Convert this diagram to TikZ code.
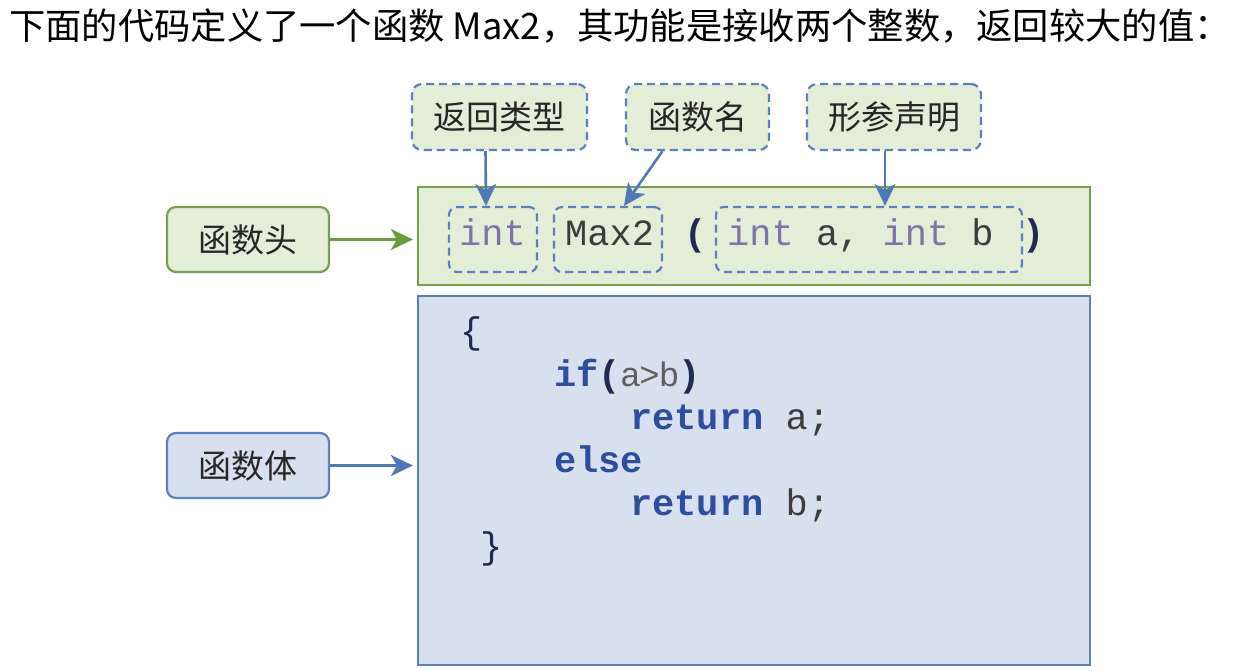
\documentclass[tikz,border=0pt]{standalone}
\usepackage{fontspec}
\setmainfont{Liberation Sans}
\setmonofont{Liberation Mono}
\newfontfamily\cjk{Noto Sans CJK SC}
\usetikzlibrary{arrows.meta}
\definecolor{gfill}{HTML}{E3EED7}
\definecolor{gline}{HTML}{76A04A}
\definecolor{bfill}{HTML}{D7E0EF}
\definecolor{bline}{HTML}{5B80BF}
\definecolor{barrow}{HTML}{4F78B8}
\definecolor{garrow}{HTML}{6A9A3E}
\definecolor{kwblue}{HTML}{2D4E9F}
\definecolor{navy}{HTML}{1F2A55}
\definecolor{intc}{HTML}{7E74A8}
\definecolor{txtg}{HTML}{3C3C3C}
\definecolor{lgray}{HTML}{5E5E5E}
\tikzset{
  bigbox/.style={draw, line width=2.2pt, minimum width=672pt, inner sep=0pt},
  sidelbl/.style={draw, line width=2.2pt, rounded corners=9pt, minimum width=162pt, minimum height=65pt, font=\cjk\fontsize{33}{35}\selectfont, text=black!85},
  toplbl/.style={draw=bline, fill=gfill, line width=2.2pt, dash pattern=on 8pt off 5pt, rounded corners=10pt, minimum height=66pt, font=\cjk\fontsize{33}{35}\selectfont, text=black!85},
  dbox/.style={draw=bline, line width=2.2pt, dash pattern=on 8pt off 5pt, rounded corners=8pt, minimum height=65pt, inner sep=0pt},
  code/.style={inner sep=0pt, anchor=base west, font=\ttfamily\fontsize{37}{40}\selectfont},
  kw/.style={code, font=\ttfamily\bfseries\fontsize{37}{40}\selectfont, text=kwblue},
  arr/.style={line width=2.6pt, -{Stealth[length=22pt,width=21pt,inset=6pt]}},
}
\begin{document}
\begin{tikzpicture}[x=1pt,y=-1pt]
\useasboundingbox (0,0) rectangle (1245,670);
% title
\node[anchor=west, inner sep=0pt, font=\cjk\fontsize{36.3}{38}\selectfont] (title) at (9,26) {下面的代码定义了一个函数 Max2，其功能是接收两个整数，返回较大的值：};
% big boxes
\node[bigbox, draw=gline, fill=gfill, minimum height=98pt] (head) at (754,236) {};
\node[bigbox, draw=bline, fill=bfill, minimum height=369pt] (body) at (754,480.5) {};
% side labels
\node[sidelbl, draw=gline, fill=gfill] (lhead) at (248,239.5) {函数头};
\node[sidelbl, draw=bline, fill=bfill] (lbody) at (248,465.5) {函数体};
\draw[arr, garrow] (lhead.east) -- ([xshift=-4pt]head.west |- lhead.east);
\draw[arr, barrow] (lbody.east) -- ([xshift=-4pt]body.west |- lbody.east);
% top labels
\node[toplbl, minimum width=175pt] (ret) at (499.5,117) {返回类型};
\node[toplbl, minimum width=143pt] (fn) at (697.5,117) {函数名};
\node[toplbl, minimum width=174pt] (parm) at (894,117) {形参声明};
% dashed boxes in header
\node[dbox, minimum width=88pt] (intbox) at (493,239.5) {};
\node[dbox, minimum width=108pt] (maxbox) at (608,239.5) {};
\node[dbox, minimum width=306pt] (parbox) at (869,239.5) {};
% arrows
\draw[arr, barrow] ([xshift=-14pt]ret.south) -- ([xshift=-7pt]intbox.north);
\draw[arr, barrow] ([xshift=-35pt]fn.south) -- ([xshift=16pt]maxbox.north);
\draw[arr, barrow] ([xshift=-9pt]parm.south) -- ([xshift=16pt]parbox.north);
% header code
\node[code, text=intc] (t1) at (459,245) {int};
\node[code, text=txtg] (t2) at (565,245) {Max2};
\node[code, font=\ttfamily\bfseries\fontsize{37}{40}\selectfont, text=navy] (t3) at (684,245) {(};
\node[code] (t4) at (727,245) {\textcolor{intc}{int} \textcolor{txtg}{a,} \textcolor{intc}{int} \textcolor{txtg}{b}};
\node[code, font=\ttfamily\bfseries\fontsize{37}{40}\selectfont, text=navy] (t5) at (1022,245) {)};
% body code
\node[code, text=navy] (b1) at (460,343) {\{};
\node[kw] (b2) at (554,386) {if\textcolor{navy}{(}{\rmfamily\mdseries\fontsize{34}{40}\selectfont\textcolor{lgray}{a>b}}\textcolor{navy}{)}};
\node[kw] (b3) at (630,429) {return \mdseries\textcolor{txtg}{a;}};
\node[kw] (b4) at (554,472) {else};
\node[kw] (b5) at (630,515) {return \mdseries\textcolor{txtg}{b;}};
\node[code, text=navy] (b6) at (480,558) {\}};
\end{tikzpicture}
\end{document}
